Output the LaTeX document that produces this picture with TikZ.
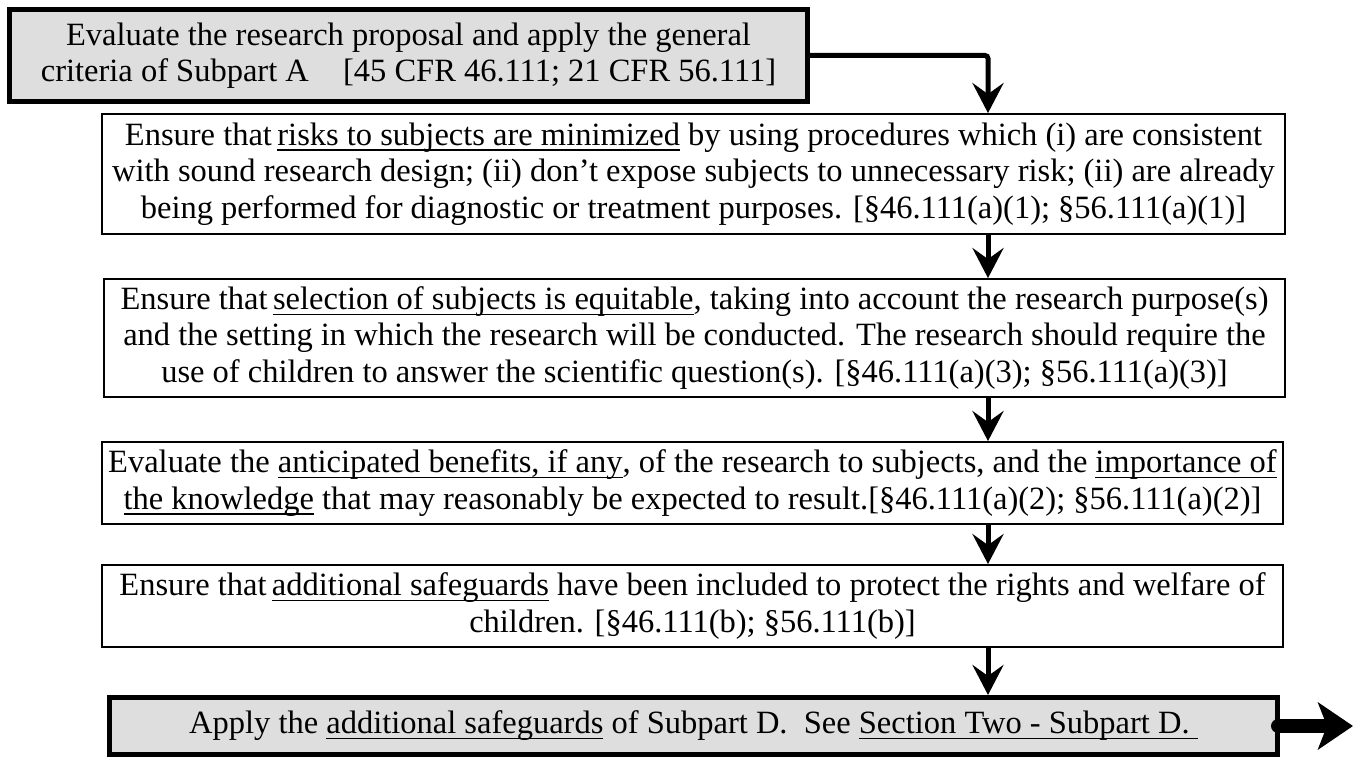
\documentclass[tikz,border=0pt]{standalone}
\usepackage{fontspec}
\setmainfont{Liberation Serif}
\usetikzlibrary{arrows.meta}
\definecolor{boxgray}{HTML}{DEDEDE}
\newcommand{\ulx}[1]{\leavevmode\setbox0\hbox{#1}\rlap{\rule[-5.5pt]{\wd0}{1.4pt}}\box0\relax}
\tikzset{
  graybox/.style={draw=black, line width=5pt, fill=boxgray, inner sep=0pt, align=center,
    font=\fontsize{32.5}{36.5}\selectfont},
  whitebox/.style={draw=black, line width=1.8pt, fill=white, inner sep=0pt, align=center,
    font=\fontsize{32.5}{36.5}\selectfont},
  flowarrow/.style={line width=5pt, -{Stealth[length=30pt,width=31pt,inset=11pt]}},
  outarrow/.style={line width=14pt, line cap=round, -{Stealth[length=35pt,width=47pt,inset=9pt]}}
}
\begin{document}
\begin{tikzpicture}[x=1pt,y=-1pt]
\useasboundingbox (0,0) rectangle (1359,759);
\node[graybox, minimum width=798pt, minimum height=92pt] (b1) at (408.5,55.5)
  {Evaluate the research proposal and apply the general\\criteria of Subpart A\hspace{0.8em} [45 CFR 46.111; 21 CFR 56.111]};
\node[whitebox, minimum width=1183pt, minimum height=120pt] (b2) at (693.5,174)
  {Ensure that\,\ulx{risks to subjects are minimized} by using procedures which (i) are consistent\\
   with sound research design; (ii) don't expose subjects to unnecessary risk; (ii) are already\\
   being performed for diagnostic or treatment purposes. [§46.111(a)(1); §56.111(a)(1)]};
\node[whitebox, minimum width=1181pt, minimum height=118pt] (b3) at (694.5,338)
  {Ensure that\,\ulx{selection of subjects is equitable}, taking into account the research purpose(s)\\
   and the setting in which the research will be conducted. The research should require the\\
   use of children to answer the scientific question(s). [§46.111(a)(3); §56.111(a)(3)]};
\node[whitebox, minimum width=1181pt, minimum height=82pt] (b4) at (692.5,483)
  {Evaluate the \ulx{anticipated benefits, if any}, of the research to subjects, and the \ulx{importance of}\\
   \ulx{the knowledge} that may reasonably be expected to result.[§46.111(a)(2); §56.111(a)(2)]};
\node[whitebox, minimum width=1181pt, minimum height=82pt] (b5) at (692.5,606)
  {Ensure that\,\ulx{additional safeguards} have been included to protect the rights and welfare of\\
   children. [§46.111(b); §56.111(b)]};
\node[graybox, minimum width=1168pt, minimum height=57pt] (b6) at (693.5,726)
  {Apply the \ulx{additional safeguards} of Subpart D.\ \ See \ulx{Section Two - Subpart D.\ }};
\coordinate (ax) at (988,0);
\coordinate (out) at (1353,0);
\draw[flowarrow, rounded corners=3pt] (b1.east) -- (ax |- b1.east) -- (ax |- b2.north);
\draw[flowarrow] (ax |- b2.south) -- (ax |- b3.north);
\draw[flowarrow] (ax |- b3.south) -- (ax |- b4.north);
\draw[flowarrow] (ax |- b4.south) -- (ax |- b5.north);
\draw[flowarrow] (ax |- b5.south) -- (ax |- b6.north);
\draw[outarrow] ([xshift=-2pt]b6.east) -- (out |- b6.east);
\end{tikzpicture}
\end{document}
